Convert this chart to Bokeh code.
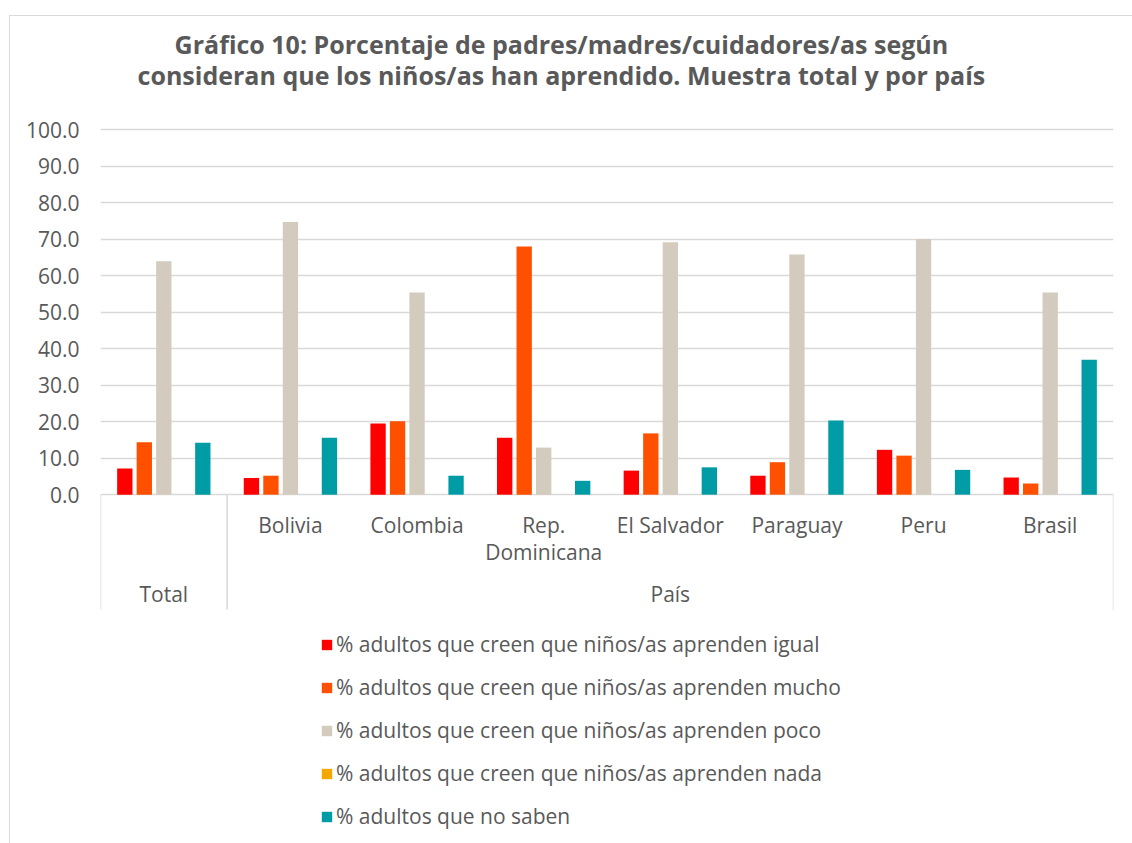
from bokeh.plotting import figure
from bokeh.models import (FactorRange, Range1d, FixedTicker, NumeralTickFormatter,
                          ColumnDataSource, Legend, LegendItem, InlineStyleSheet)
from bokeh.transform import dodge
from bokeh.core.properties import value
from bokeh.embed import file_html
from bokeh.resources import INLINE

# ---------------- data ----------------
title_lines = ["Gráfico 10: Porcentaje de padres/madres/cuidadores/as según",
               "consideran que los niños/as han aprendido. Muestra total y por país"]
categories = ["Total", "Bolivia", "Colombia", "Rep. Dominicana", "El Salvador",
              "Paraguay", "Peru", "Brasil"]
cat_labels = ["", "Bolivia", "Colombia", "Rep.\nDominicana", "El Salvador",
              "Paraguay", "Peru", "Brasil"]
groups = ["Total", "País"]
group_sizes = [1, 7]

series_names = ["% adultos que creen que niños/as aprenden igual",
                "% adultos que creen que niños/as aprenden mucho",
                "% adultos que creen que niños/as aprenden poco",
                "% adultos que creen que niños/as aprenden nada",
                "% adultos que no saben"]
igual = [7.2, 4.6, 19.5, 15.6, 6.6, 5.2, 12.3, 4.7]
mucho = [14.4, 5.2, 20.1, 68.0, 16.8, 8.9, 10.7, 3.1]
poco = [64.0, 74.7, 55.4, 12.9, 69.2, 65.8, 70.1, 55.4]
nada = [0.0, 0.0, 0.0, 0.0, 0.0, 0.0, 0.0, 0.0]
no_saben = [14.2, 15.6, 5.2, 3.8, 7.5, 20.3, 6.8, 37.0]
y_ticks = [0, 10, 20, 30, 40, 50, 60, 70, 80, 90, 100]

# ---------------- styling ----------------
colors = ["#FF0000", "#FF5000", "#D3CBBD", "#F5A700", "#009CA6"]
TXT = "#595959"
GRID = "#d9d9d9"
FONT = "Open Sans"
FS = "21px"

border_css = InlineStyleSheet(css="""
:host { position: relative; }
:host::after {
  content: ''; position: absolute; left: 9px; top: 15px;
  width: calc(100% - 9px); height: calc(100% - 15px);
  border-left: 1.5px solid #d9d9d9; border-top: 1.5px solid #d9d9d9;
  box-sizing: border-box; pointer-events: none;
}
""")

W, H = 1132, 843
p = figure(width=W, height=H, output_backend="svg", toolbar_location=None,
           x_range=FactorRange(factors=categories, range_padding=0,
                               factor_padding=0, group_padding=0),
           y_range=Range1d(-95.59, 135.43),
           x_axis_location=None, y_axis_location="left",
           min_border_left=100, min_border_right=19,
           min_border_top=0, min_border_bottom=0)
p.stylesheets = [border_css]
p.outline_line_color = None
p.background_fill_color = "white"
p.border_fill_color = "white"
p.xgrid.visible = False

yax = p.yaxis[0]
yax.ticker = FixedTicker(ticks=y_ticks)
yax.formatter = NumeralTickFormatter(format="0.0")
yax.axis_line_color = None
yax.major_tick_line_color = None
yax.minor_tick_line_color = None
yax.major_tick_out = 0
yax.major_tick_in = 0
yax.minor_tick_out = 0
yax.major_label_standoff = 21
yax.major_label_text_font = FONT
yax.major_label_text_font_size = FS
yax.major_label_text_color = TXT

p.ygrid.ticker = FixedTicker(ticks=y_ticks)
p.ygrid.grid_line_color = GRID
p.ygrid.grid_line_width = 1.3

# ---------------- bars ----------------
src = ColumnDataSource(dict(cat=categories, igual=igual, mucho=mucho, poco=poco,
                            nada=nada, no_saben=no_saben))
keys = ["igual", "mucho", "poco", "nada", "no_saben"]
step = 0.154
bar_w = 0.121
renderers = []
for i, (k, c) in enumerate(zip(keys, colors)):
    r = p.vbar(x=dodge("cat", (i - 2) * step, range=p.x_range), top=k, width=bar_w,
               source=src, fill_color=c, line_color=None)
    renderers.append(r)

# ---------------- category axis (hierarchical) ----------------
sep_bottom = -31.46
bounds = [0]
for s in group_sizes:
    bounds.append(bounds[-1] + s)
p.segment(x0=bounds, y0=[0] * len(bounds), x1=bounds, y1=[sep_bottom] * len(bounds),
          line_color=GRID, line_width=1.5)

line1 = [l.split("\n")[0] for l in cat_labels]
line2 = [l.split("\n")[1] if "\n" in l else "" for l in cat_labels]
lab_src = ColumnDataSource(dict(cat=categories, l1=line1, l2=line2,
                                y1=[-8.30] * len(categories),
                                y2=[-15.57] * len(categories)))
common = dict(text_font=value(FONT), text_font_size=FS, text_color=TXT,
              text_align="center", text_baseline="middle")
p.text(x="cat", y="y1", text="l1", source=lab_src, **common)
p.text(x="cat", y="y2", text="l2", source=lab_src, **common)

g_centers = [(bounds[i] + bounds[i + 1]) / 2 for i in range(len(groups))]
p.text(x=g_centers, y=[-27.35] * len(groups), text=groups, **common)

# ---------------- title ----------------
p.text(x=[3.64, 3.64], y=[123.38, 114.88], text=title_lines,
       text_font=value(FONT), text_font_size="25px", text_font_style="bold",
       text_color=TXT, text_align="center", text_baseline="middle")

# ---------------- legend ----------------
legend = Legend(items=[LegendItem(label=n, renderers=[r]) for n, r in zip(series_names, renderers)],
                location=(220, 13), orientation="vertical",
                glyph_width=13, glyph_height=13, label_standoff=3,
                label_height=28, spacing=15, padding=0, margin=0,
                border_line_color=None, background_fill_alpha=0,
                label_text_font=FONT, label_text_font_size=FS,
                label_text_color=TXT)
p.add_layout(legend)

open("out.html", "w").write(file_html(p, INLINE))
